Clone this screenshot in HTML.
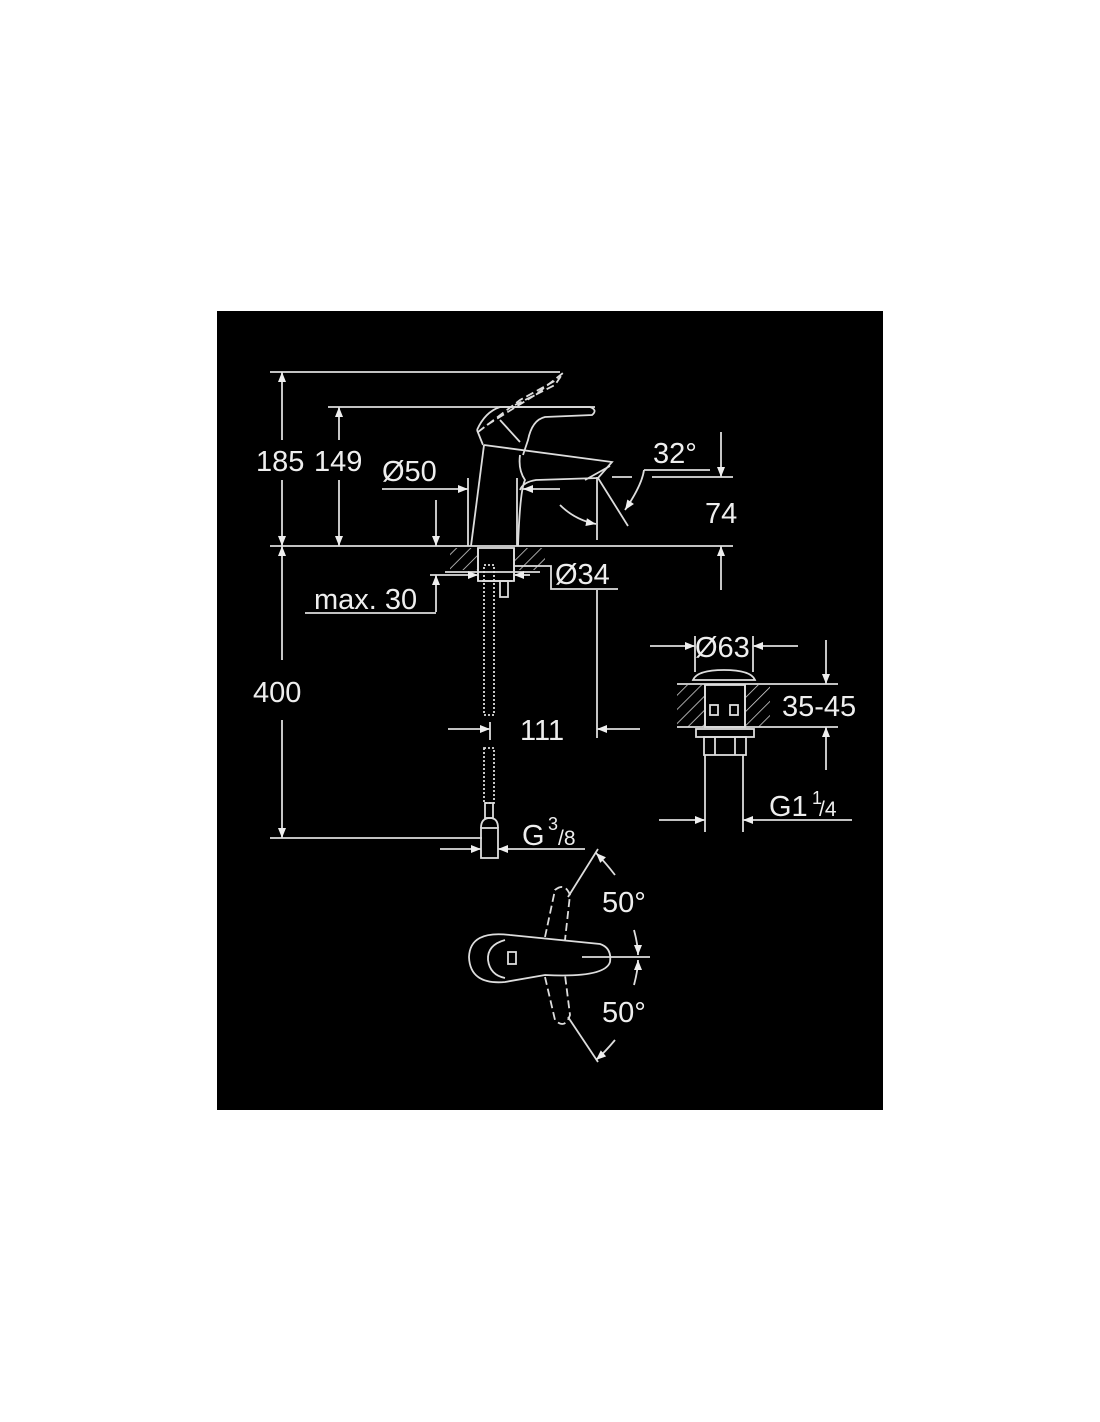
<!DOCTYPE html>
<html><head><meta charset="utf-8"><style>
html,body{margin:0;padding:0;background:#fff;}
svg{display:block;}
text{font-family:"Liberation Sans",sans-serif;fill:#eee;font-size:29px;}
</style></head><body>
<svg width="1100" height="1422" viewBox="0 0 1100 1422" xmlns="http://www.w3.org/2000/svg">
<defs>
<marker id="a" viewBox="0 0 10 10" refX="10" refY="5" markerWidth="20" markerHeight="10" markerUnits="userSpaceOnUse" orient="auto"><path d="M0,1 L10,5 L0,9 z" fill="#eee"/></marker>
<pattern id="h" width="10" height="10" patternUnits="userSpaceOnUse" patternTransform="rotate(45)"><line x1="0" y1="0" x2="0" y2="10" stroke="#ddd" stroke-width="1.5"/></pattern>
</defs>
<rect x="217" y="311" width="666" height="799" fill="#000"/>
<g stroke="#ddd" stroke-width="1.8" fill="none">
<line x1="270" y1="372" x2="560" y2="372"/>
<line x1="328" y1="407" x2="595" y2="407"/>
<line x1="270" y1="546" x2="733" y2="546"/>
<line x1="270" y1="838" x2="482" y2="838"/>
<line x1="282" y1="440" x2="282" y2="372" marker-end="url(#a)"/>
<line x1="282" y1="480" x2="282" y2="546" marker-end="url(#a)"/>
<line x1="339" y1="440" x2="339" y2="407" marker-end="url(#a)"/>
<line x1="339" y1="480" x2="339" y2="546" marker-end="url(#a)"/>
<line x1="282" y1="660" x2="282" y2="546" marker-end="url(#a)"/>
<line x1="282" y1="720" x2="282" y2="838" marker-end="url(#a)"/>
<path d="M487,425 L535,395 L563,373 L555,385 L515,405" stroke-dasharray="8,4"/>
<path d="M478,432 L520,400 L560,378" stroke-dasharray="8,4"/>
<path d="M477,430 Q485,412 500,407 L590,407 Q598,410 592,415 L545,417 Q532,420 528,440 L523,455"/>
<path d="M477,430 L483,445"/>
<path d="M500,420 L520,442"/>
<path d="M484,445 L471,546"/>
<path d="M520,455 Q518,470 525,480 Q520,490 518,546"/>
<path d="M484,445 L612,462 L598,478 L536,480 Q523,482 520,490"/>
<path d="M585,480 L610,466"/>
<line x1="382" y1="489" x2="468" y2="489" marker-end="url(#a)"/>
<line x1="560" y1="489" x2="523" y2="489" marker-end="url(#a)"/>
<line x1="468" y1="478" x2="468" y2="546"/>
<line x1="517" y1="478" x2="517" y2="546"/>
<line x1="597" y1="477" x2="597" y2="540"/>
<line x1="598" y1="478" x2="628" y2="526"/>
<path d="M560,505 Q575,520 596,524" marker-end="url(#a)"/>
<path d="M644,470 Q642,485 625,510" marker-end="url(#a)"/>
<line x1="644" y1="470" x2="710" y2="470"/>
<line x1="652" y1="477" x2="733" y2="477"/>
<line x1="612" y1="477" x2="632" y2="477"/>
<line x1="721" y1="432" x2="721" y2="477" marker-end="url(#a)"/>
<line x1="721" y1="590" x2="721" y2="546" marker-end="url(#a)"/>
<rect x="450" y="548" width="95" height="22" fill="url(#h)" stroke="none"/>
<rect x="478" y="548" width="36" height="33" fill="#000"/>
<line x1="478" y1="548" x2="478" y2="581"/>
<line x1="514" y1="548" x2="514" y2="581"/>
<line x1="445" y1="572" x2="540" y2="572"/>
<line x1="482" y1="581" x2="512" y2="581"/>
<rect x="500" y="581" width="8" height="16"/>
<line x1="430" y1="575" x2="478" y2="575" marker-end="url(#a)"/>
<line x1="530" y1="575" x2="514" y2="575" marker-end="url(#a)"/>
<polyline points="514,566 551,566 551,589 618,589"/>
<line x1="436" y1="500" x2="436" y2="546" marker-end="url(#a)"/>
<line x1="436" y1="612" x2="436" y2="575" marker-end="url(#a)"/>
<line x1="305" y1="613" x2="436" y2="613"/>
<rect x="484" y="565" width="10" height="150" stroke-dasharray="2,2"/>
<rect x="484" y="748" width="10" height="55" stroke-dasharray="2,2"/>
<rect x="485" y="803" width="8" height="15"/>
<rect x="481" y="828" width="17" height="30"/>
<path d="M481,828 Q481,818 490,818 Q498,818 498,828"/>
<line x1="448" y1="729" x2="490" y2="729" marker-end="url(#a)"/>
<line x1="640" y1="729" x2="597" y2="729" marker-end="url(#a)"/>
<line x1="490" y1="722" x2="490" y2="740"/>
<line x1="597" y1="590" x2="597" y2="738"/>
<line x1="440" y1="849" x2="481" y2="849" marker-end="url(#a)"/>
<line x1="585" y1="849" x2="498" y2="849" marker-end="url(#a)"/>
<line x1="650" y1="646" x2="695" y2="646" marker-end="url(#a)"/>
<line x1="798" y1="646" x2="753" y2="646" marker-end="url(#a)"/>
<line x1="695" y1="636" x2="695" y2="672"/>
<line x1="753" y1="636" x2="753" y2="672"/>
<path d="M693,680 Q697,670 724,670 Q751,670 755,680 Z"/>
<rect x="677" y="685" width="93" height="42" fill="url(#h)" stroke="none"/>
<rect x="705" y="685" width="40" height="42" fill="#000"/>
<line x1="677" y1="684" x2="838" y2="684"/>
<line x1="677" y1="727" x2="838" y2="727"/>
<line x1="705" y1="684" x2="705" y2="727"/>
<line x1="745" y1="684" x2="745" y2="727"/>
<rect x="710" y="705" width="8" height="10"/><rect x="730" y="705" width="8" height="10"/>
<rect x="696" y="729" width="58" height="8"/>
<rect x="704" y="737" width="42" height="18"/>
<line x1="715" y1="737" x2="715" y2="755"/><line x1="735" y1="737" x2="735" y2="755"/>
<line x1="705" y1="755" x2="705" y2="832"/>
<line x1="743" y1="755" x2="743" y2="832"/>
<line x1="826" y1="640" x2="826" y2="684" marker-end="url(#a)"/>
<line x1="826" y1="770" x2="826" y2="727" marker-end="url(#a)"/>
<line x1="659" y1="820" x2="705" y2="820" marker-end="url(#a)"/>
<line x1="790" y1="820" x2="743" y2="820" marker-end="url(#a)"/>
<line x1="790" y1="820" x2="852" y2="820"/>
<path d="M510,935 Q470,930 469,957 Q470,985 505,982 L545,975 Q605,978 610,962 Q612,948 600,944 L540,938 Z"/>
<path d="M505,940 Q487,945 488,960 Q490,975 505,978"/>
<rect x="508" y="952" width="8" height="12"/>
<path d="M545,937 L555,890 Q565,882 570,895 L565,940" stroke-dasharray="8,4"/>
<path d="M545,977 L555,1020 Q565,1030 570,1015 L565,975" stroke-dasharray="8,4"/>
<line x1="568" y1="897" x2="598" y2="849"/>
<line x1="568" y1="1017" x2="598" y2="1062"/>
<line x1="582" y1="957" x2="650" y2="957"/>
<path d="M615,875 Q605,862 596,853" marker-end="url(#a)"/>
<path d="M634,930 Q638,945 638,955" marker-end="url(#a)"/>
<path d="M634,985 Q638,970 638,960" marker-end="url(#a)"/>
<path d="M615,1040 Q605,1052 596,1060" marker-end="url(#a)"/>
</g>
<text x="256" y="471">185</text>
<text x="314" y="471">149</text>
<text x="382" y="481">Ø50</text>
<text x="653" y="463">32°</text>
<text x="705" y="523">74</text>
<text x="555" y="584">Ø34</text>
<text x="314" y="609">max. 30</text>
<text x="253" y="702">400</text>
<text x="520" y="740">111</text>
<text x="522" y="845">G</text><text x="548" y="830" style="font-size:18px">3</text><text x="558" y="845" style="font-size:21px">/8</text>
<text x="695" y="657">Ø63</text>
<text x="782" y="716">35-45</text>
<text x="769" y="816">G1</text><text x="812" y="804" style="font-size:18px">1</text><text x="819" y="816" style="font-size:21px">/4</text>
<text x="602" y="912">50°</text>
<text x="602" y="1022">50°</text>
</svg>
</body></html>
